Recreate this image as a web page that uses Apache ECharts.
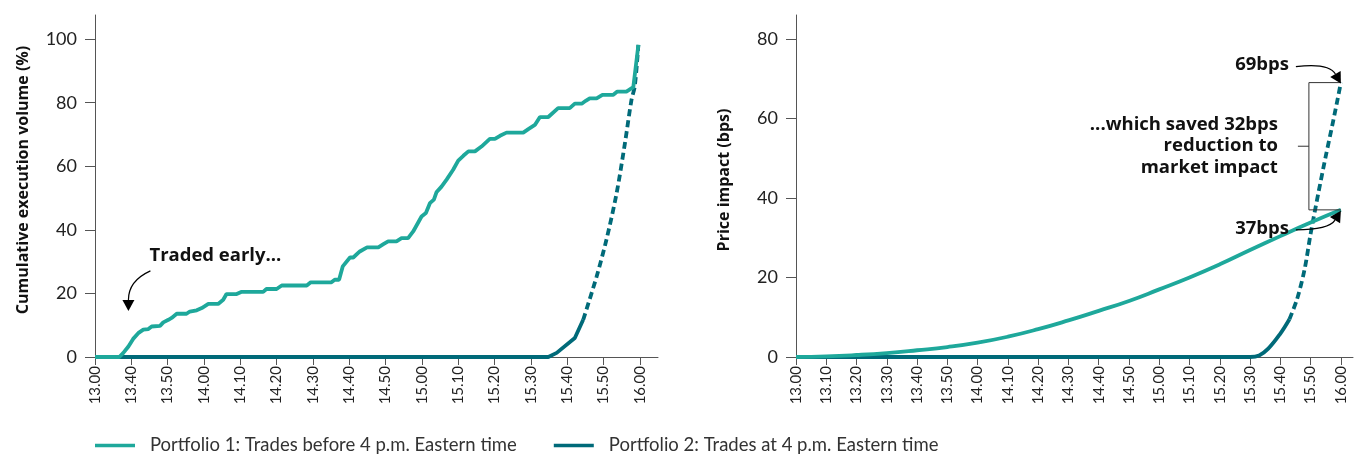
<!DOCTYPE html>
<html>
<head>
<meta charset="utf-8">
<script src="https://cdn.jsdelivr.net/npm/echarts@6/dist/echarts.min.js"></script>
<style>
  html, body { margin: 0; padding: 0; background: #fff; }
  #chart { width: 1361px; height: 457px; }
</style>
</head>
<body>
<div id="chart"></div>
<script>
// ---- Left panel: cumulative execution volume (%) ----
// tick labels are evenly spaced along the axis; positions below are in tick-index units
const volumeTickLabels = ['13.00','13.40','13.50','14.00','14.10','14.20','14.30','14.40','14.50',
                          '15.00','15.10','15.20','15.30','15.40','15.50','16.00'];
const volumeTicks = [0,20,40,60,80,100];

const p1VolumePos = [0, 0.67, 0.78, 0.92, 1.05, 1.19, 1.33, 1.47, 1.56, 1.79, 1.88, 2.02, 2.11, 2.25, 2.52,
  2.61, 2.80, 2.94, 3.12, 3.39, 3.53, 3.62, 3.90, 4.04, 4.63, 4.72, 5.00, 5.14, 5.83, 5.94, 6.51, 6.60,
  6.72, 6.82, 7.02, 7.11, 7.29, 7.49, 7.80, 7.94, 8.07, 8.30, 8.44, 8.62, 8.76, 8.99, 9.11, 9.22, 9.33,
  9.40, 9.54, 9.68, 9.86, 10.0, 10.14, 10.28, 10.46, 10.64, 10.87, 11.01, 11.15, 11.33, 11.79, 11.93,
  12.11, 12.25, 12.48, 12.75, 13.07, 13.21, 13.40, 13.51, 13.62, 13.81, 13.97, 14.27, 14.38, 14.63,
  14.82, 14.96];
const p1Volume = [0, 0, 1.3, 3.3, 5.7, 7.5, 8.6, 8.8, 9.6, 9.8, 10.9, 11.7, 12.3, 13.6, 13.6,
  14.3, 14.7, 15.4, 16.7, 16.7, 18.0, 19.8, 19.8, 20.5, 20.5, 21.4, 21.4, 22.5, 22.5, 23.5, 23.5, 24.3,
  24.3, 28.5, 31.3, 31.3, 33.2, 34.5, 34.5, 35.5, 36.4, 36.4, 37.4, 37.4, 39.5, 44.2, 45.3, 48.4, 49.5,
  51.8, 53.6, 55.8, 58.9, 61.8, 63.3, 64.7, 64.7, 66.2, 68.6, 68.6, 69.6, 70.6, 70.6, 71.7,
  73.0, 75.5, 75.5, 78.3, 78.3, 79.7, 79.7, 80.6, 81.4, 81.4, 82.5, 82.5, 83.5, 83.5,
  84.9, 98.2];

// Portfolio 2: solid part, then the dashed closing ramp
const p2VolumeSolidPos = [0, 12.48, 12.71, 13.21, 13.44];
const p2VolumeSolid    = [0, 0, 1.3, 6.0, 11.7];
const p2VolumeDashPos  = [13.44, 13.81, 14.08, 14.36, 14.59, 14.77, 14.86, 14.96];
const p2VolumeDash     = [11.7, 25.3, 36.9, 51.5, 67.3, 80.9, 85.1, 98.2];

// ---- Right panel: price impact (bps), x in minutes after 13.00 ----
const impactTickLabels = ['13.00','13.10','13.20','13.30','13.40','13.50','14.00','14.10','14.20','14.30',
                          '14.40','14.50','15.00','15.10','15.20','15.30','15.40','15.50','16.00'];
const impactTicks = [0,20,40,60,80];

const p1ImpactMin = [0,10,20,30,40,50,60,70,80,90,100,110,120,130,140,150,160,170,180];
const p1Impact    = [0,0.15,0.5,1.0,1.7,2.5,3.6,5.1,7.0,9.2,11.6,14.1,17.0,20.0,23.3,26.9,30.4,33.8,37];

const p2ImpactSolidMin = [0, 150, 153, 156, 160, 163];
const p2ImpactSolid    = [0, 0, 0.4, 2.1, 5.9, 9.5];
const p2ImpactDashMin  = [163, 165.5, 168, 170, 172.5, 175, 177.5, 180];
const p2ImpactDash     = [9.5, 14.5, 22, 31, 41, 50.5, 59.5, 69];

const NAME1 = 'Portfolio 1: Trades before 4 p.m. Eastern time';
const NAME2 = 'Portfolio 2: Trades at 4 p.m. Eastern time';
const C1 = '#1ea89b';
const C2 = '#006a79';
const AXIS = '#555555';
const FONT = 'Lato';
const BOLD_FONT = 'Open Sans';

const pairs = (xs, ys) => xs.map((x, i) => [x, ys[i]]);
const range = (n, step) => Array.from({ length: n }, (_, i) => i * step);

function xAxisCfg(grid, max, ticks, fmt) {
  return {
    type: 'value', gridIndex: grid, min: 0, max: max,
    axisLine: { show: true, onZero: true, lineStyle: { color: AXIS, width: 1 } },
    axisTick: { show: true, customValues: ticks, length: 8, lineStyle: { color: AXIS } },
    axisLabel: { customValues: ticks, rotate: 90, margin: 9, fontSize: 15, color: '#222',
                 fontFamily: FONT, formatter: fmt },
    splitLine: { show: false }
  };
}
function yAxisCfg(grid, max, ticks, name) {
  return {
    type: 'value', gridIndex: grid, min: 0, max: max,
    name: name, nameLocation: 'middle', nameGap: 64,
    nameTextStyle: { fontFamily: BOLD_FONT, fontWeight: 'bold', fontSize: 16, color: '#111', padding: [0, 0, 0, 12] },
    axisLine: { show: true, lineStyle: { color: AXIS, width: 1 } },
    axisTick: { show: true, customValues: ticks, length: 10, lineStyle: { color: AXIS } },
    axisLabel: { customValues: ticks, margin: 18, fontSize: 18, color: '#222', fontFamily: FONT },
    splitLine: { show: false }
  };
}
function lineSeries(name, grid, data, color, dashed, smooth, z) {
  return {
    type: 'line', name: name, xAxisIndex: grid, yAxisIndex: grid, data: data,
    symbol: 'none', smooth: smooth, z: z, animation: false,
    lineStyle: { color: color, width: 3.8, type: dashed ? [7, 4] : 'solid', cap: 'butt' },
    itemStyle: { color: color }
  };
}

const chart = echarts.init(document.getElementById('chart'), null, { renderer: 'canvas' });
chart.setOption({
  animation: false,
  textStyle: { fontFamily: FONT },
  grid: [
    { left: 95, top: 15, width: 563, height: 342 },
    { left: 796, top: 15, width: 557, height: 342 }
  ],
  xAxis: [
    xAxisCfg(0, 15.5, range(volumeTickLabels.length, 1), v => volumeTickLabels[Math.round(v)]),
    xAxisCfg(1, 184, range(impactTickLabels.length, 10), v => impactTickLabels[Math.round(v / 10)])
  ],
  yAxis: [
    yAxisCfg(0, 107.6, volumeTicks, 'Cumulative execution volume (%)'),
    yAxisCfg(1, 86, impactTicks, 'Price impact (bps)')
  ],
  legend: {
    data: [NAME1, NAME2], left: 95, top: 436, padding: 0, icon: 'rect', itemWidth: 40, itemHeight: 3.5, itemGap: 37,
    textStyle: { fontFamily: FONT, fontSize: 18.5, color: '#333', padding: [0, 0, 0, 10] }
  },
  series: [
    lineSeries(NAME2, 0, pairs(p2VolumeSolidPos, p2VolumeSolid), C2, false, false, 2),
    lineSeries(NAME2, 0, pairs(p2VolumeDashPos, p2VolumeDash), C2, true, 0.3, 2),
    lineSeries(NAME1, 0, pairs(p1VolumePos, p1Volume), C1, false, false, 3),
    lineSeries(NAME2, 1, pairs(p2ImpactSolidMin, p2ImpactSolid), C2, false, 0.4, 2),
    lineSeries(NAME2, 1, pairs(p2ImpactDashMin, p2ImpactDash), C2, true, 0.3, 2),
    lineSeries(NAME1, 1, pairs(p1ImpactMin, p1Impact), C1, false, 0.5, 3)
  ]
});

// ---- annotations placed from data anchors ----
function arrow(start, ctrl, tip) {
  const dx = tip[0] - ctrl[0], dy = tip[1] - ctrl[1];
  const len = Math.hypot(dx, dy) || 1;
  const ux = dx / len, uy = dy / len;
  const hl = 11, hw = 6;
  const bx = tip[0] - ux * hl, by = tip[1] - uy * hl;
  return [
    { type: 'bezierCurve', shape: { x1: start[0], y1: start[1], cpx1: ctrl[0], cpy1: ctrl[1],
        x2: bx, y2: by }, style: { stroke: '#000', lineWidth: 1.2, fill: null }, z: 10 },
    { type: 'polygon', shape: { points: [tip, [bx - uy * hw, by + ux * hw], [bx + uy * hw, by - ux * hw]] },
      style: { fill: '#000' }, z: 10 }
  ];
}
function label(text, x, y, align) {
  return { type: 'text', x: x, y: y, z: 10,
    style: { text: text, fontFamily: BOLD_FONT, fontWeight: 'bold', fontSize: 18.5, fill: '#111',
             align: align, verticalAlign: 'middle', lineHeight: 21.5 } };
}

const end69 = chart.convertToPixel({ gridIndex: 1 }, [180, 69]);
const end37 = chart.convertToPixel({ gridIndex: 1 }, [180, 37]);
const early = chart.convertToPixel({ gridIndex: 0 }, [0.92, 14.5]);

const bx = end69[0] - 32;
const midY = (end69[1] + end37[1]) / 2;
const graphics = [
  { type: 'polyline', z: 9, shape: { points: [[end69[0], end69[1]], [bx, end69[1]], [bx, end37[1]], [end37[0], end37[1]]] },
    style: { stroke: '#333', lineWidth: 1, fill: null } },
  { type: 'line', z: 9, shape: { x1: bx - 11, y1: midY, x2: bx, y2: midY }, style: { stroke: '#333', lineWidth: 1 } },
  label('69bps', end69[0] - 52, end69[1] - 18, 'right'),
  label('37bps', end37[0] - 52, end37[1] + 19, 'right'),
  label('...which saved 32bps\nreduction to\nmarket impact', bx - 31, midY, 'right'),
  label('Traded early...', early[0] + 21, early[1] - 55, 'left'),
  ...arrow([end69[0] - 45, end69[1] - 16], [end69[0] - 12, end69[1] - 20], [end69[0], end69[1] + 1]),
  ...arrow([end37[0] - 45, end37[1] + 20], [end37[0] - 12, end37[1] + 20], [end37[0], end37[1] + 1]),
  ...arrow([early[0] + 22, early[1] - 40], [early[0], early[1] - 30], [early[0], early[1]])
];
chart.setOption({ graphic: graphics });
</script>
</body>
</html>
